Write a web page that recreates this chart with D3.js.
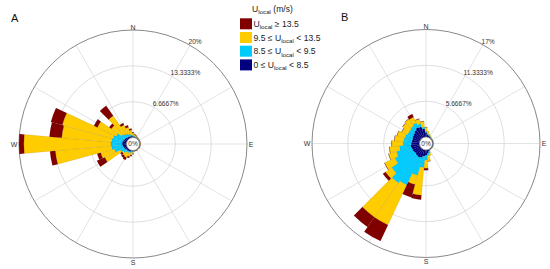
<!DOCTYPE html>
<html><head><meta charset="utf-8">
<script src="https://cdn.jsdelivr.net/npm/d3@7"></script>
<style>body{margin:0;background:#fff}svg{display:block}</style>
</head><body>
<svg id="chart" width="550" height="269"></svg>
<script>
// Direction bins (degrees, clockwise from North)
const directions = d3.range(0, 360, 10);

// Speed classes (m/s), from lowest to highest
const classNames = ["0 ≤ U_{local} < 8.5", "8.5 ≤ U_{local} < 9.5", "9.5 ≤ U_{local} < 13.5", "U_{local} ≥ 13.5"];
const legendTitle = "U_{local} (m/s)";

// Panel A — frequency (%) per direction bin for each speed class
const aCalm = [0.2,0.2,0.1,0.1,0.1,0.05,0.05,0.05,0.05,0.05,0.05,0.05,0.05,0.05,0.05,0.05,0.05,0.05,0.1,0.2,0.3,0.3,0.4,0.4,0.5,0.6,0.7,0.8,0.8,0.7,0.6,0.5,0.4,0.4,0.3,0.3];
const aMid  = [0.2,0.1,0.1,0.1,0.05,0.05,0.05,0.05,0.05,0.05,0.05,0.05,0.05,0.05,0.05,0.05,0.05,0.05,0.2,0.2,0.2,0.3,0.3,0.6,0.9,1.8,2.1,2.1,2.0,1.9,1.6,0.9,0.7,0.5,0.4,0.2];
const aHigh = [0.5,0.3,0.2,0.1,0.1,0.1,0.05,0.05,0.05,0.05,0.05,0.05,0.05,0.05,0.05,0.05,0.05,0.05,0.3,0.5,0.7,1.0,0.8,0.3,3.2,2.6,10.5,16.2,9.3,9.8,3.9,2.3,4.1,1.8,1.3,0.9];
const aMax  = [0.1,0.1,0.1,0.05,0.05,0.05,0.05,0.05,0.05,0.05,0.05,0.05,0.05,0.05,0.05,0.05,0.05,0.05,0.1,0.2,0.3,0.5,0.4,0.4,1.6,0.7,1.0,0.9,2.3,2.2,0.7,0.5,2.3,0.4,0.4,0.3];
const aRingValues = [6.6667, 13.3333, 20];
const aRingLabels = ["6.6667%", "13.3333%", "20%"];

// Panel B
const bCalm = [0.7,0.4,0.3,0.2,0.15,0.1,0.1,0.1,0.1,0.1,0.1,0.1,0.1,0.1,0.1,0.1,0.3,0.5,0.8,1.0,1.3,1.4,1.3,1.2,1.3,1.3,1.4,1.3,1.2,1.2,1.3,1.4,1.6,1.8,1.7,1.3];
const bMid  = [0.2,0.2,0.1,0.1,0.05,0.05,0.05,0.05,0.05,0.05,0.05,0.05,0.05,0.05,0.05,0.05,0.3,0.4,0.8,1.8,2.9,4.8,5.3,4.4,3.1,2.5,1.8,1.3,1.3,1.2,0.9,0.8,0.8,0.8,0.5,0.3];
const bHigh = [0.6,0.4,0.2,0.1,0.1,0.05,0.05,0.05,0.05,0.05,0.05,0.05,0.05,0.05,0.05,0.05,0.4,0.9,1.3,4.4,1.5,7.0,6.6,1.2,1.8,1.3,1.6,1.8,1.5,1.3,1.0,1.3,1.3,1.0,0.8,0.9];
const bMax  = [0.05,0,0,0,0,0,0,0,0,0,0,0,0,0,0,0,0,0.05,0.3,0.7,2.1,2.8,1.9,0.5,0.05,0.05,0.05,0.05,0.05,0.05,0.05,0.05,0.05,0.5,0.05,0.05];
const bRingValues = [5.6667, 11.3333, 17];
const bRingLabels = ["5.6667%", "11.3333%", "17%"];

const cardinalLabels = ["N", "E", "S", "W"];
const panelLabels = ["A", "B"];

// ---------- styling ----------
const colors = ["#000080", "#00ccff", "#ffcc00", "#800000"];
const FONT = "'Liberation Sans', Arial, Helvetica, sans-serif";
const svg = d3.select("#chart");

function richText(sel, str, size) {
  // parse "_{...}" into subscript tspans
  const parts = str.split(/(_\{[^}]*\})/).filter(s => s.length);
  let sub = false;
  parts.forEach(p => {
    if (p.startsWith("_{")) {
      sel.append("tspan").attr("dy", size * 0.3).attr("font-size", size * 0.72).text(p.slice(2, -1));
      sub = true;
    } else {
      const t = sel.append("tspan").text(p);
      if (sub) { t.attr("dy", -size * 0.3); sub = false; }
    }
  });
}

function drawRose(cx, cy, series, ringValues, ringLabels, panelLabel, px, py) {
  const R = 114, r0 = 6.5;
  const maxV = ringValues[ringValues.length - 1];
  const r = d3.scaleLinear().domain([0, maxV]).range([r0, R]);
  const g = svg.append("g").attr("transform", `translate(${cx},${cy})`);

  // spokes every 30°
  d3.range(0, 360, 30).forEach(a => {
    const t = a * Math.PI / 180;
    g.append("line")
      .attr("x1", r0 * Math.sin(t)).attr("y1", -r0 * Math.cos(t))
      .attr("x2", R * Math.sin(t)).attr("y2", -R * Math.cos(t))
      .attr("stroke", "#dcdcdc").attr("stroke-width", 0.8);
  });
  // rings
  ringValues.forEach((v, i) => {
    g.append("circle").attr("r", r(v)).attr("fill", "none")
      .attr("stroke", i === ringValues.length - 1 ? "#7a7a7a" : "#d6d6d6")
      .attr("stroke-width", i === ringValues.length - 1 ? 0.9 : 0.8);
  });

  // stacked bars
  const arc = d3.arc();
  const half = 5 * Math.PI / 180;
  directions.forEach((d, i) => {
    let c0 = 0;
    const a = d * Math.PI / 180;
    series.forEach((s, k) => {
      const c1 = c0 + s[i];
      if (s[i] > 0) {
        g.append("path")
          .attr("d", arc({innerRadius: r(c0), outerRadius: r(c1), startAngle: a - half, endAngle: a + half}))
          .attr("fill", colors[k])
          .attr("stroke", "rgba(0,0,0,0.18)").attr("stroke-width", 0.4);
      }
      c0 = c1;
    });
  });

  // centre circle
  g.append("circle").attr("r", r0).attr("fill", "#fff").attr("stroke", "#6e6e6e").attr("stroke-width", 0.7);
  g.append("text").attr("x", 0).attr("y", 2.4).attr("text-anchor", "middle")
    .attr("font-family", FONT).attr("font-size", 6.5).attr("fill", "#333").text("0%");

  // ring labels along 30° spoke
  const t30 = 30 * Math.PI / 180;
  ringValues.forEach((v, i) => {
    const rr = r(v);
    g.append("text").attr("x", rr * Math.sin(t30) - 1.5).attr("y", -rr * Math.cos(t30) - 1.2)
      .attr("font-family", FONT).attr("font-size", 6.6).attr("fill", "#333").text(ringLabels[i]);
  });

  // cardinal labels
  const cpos = [[0, -117], [118, 0], [0, 118], [-119, 0]];
  cardinalLabels.forEach((c, i) => {
    g.append("text").attr("x", cpos[i][0]).attr("y", cpos[i][1] + 2.5).attr("text-anchor", "middle")
      .attr("font-family", FONT).attr("font-size", 7).attr("fill", "#333").text(c);
  });

  svg.append("text").attr("x", px).attr("y", py).attr("font-family", FONT)
    .attr("font-size", 11).attr("fill", "#111").text(panelLabel);
}

drawRose(133, 144, [aCalm, aMid, aHigh, aMax], aRingValues, aRingLabels, panelLabels[0], 11, 22);
drawRose(426, 143.5, [bCalm, bMid, bHigh, bMax], bRingValues, bRingLabels, panelLabels[1], 341, 21);

// legend
const lg = svg.append("g");
const lt = lg.append("text").attr("x", 252).attr("y", 11.5).attr("font-family", FONT)
  .attr("font-size", 8.6).attr("fill", "#222");
richText(lt, legendTitle, 8.6);
const order = [3, 2, 1, 0];
order.forEach((k, j) => {
  const yc = 23.8 + j * 13.7;
  lg.append("rect").attr("x", 240).attr("y", yc - 5.5).attr("width", 12).attr("height", 11)
    .attr("fill", colors[k]);
  const t = lg.append("text").attr("x", 253.5).attr("y", yc + 3).attr("font-family", FONT)
    .attr("font-size", 8.6).attr("fill", "#222");
  richText(t, classNames[k], 8.6);
});
</script>
</body></html>
